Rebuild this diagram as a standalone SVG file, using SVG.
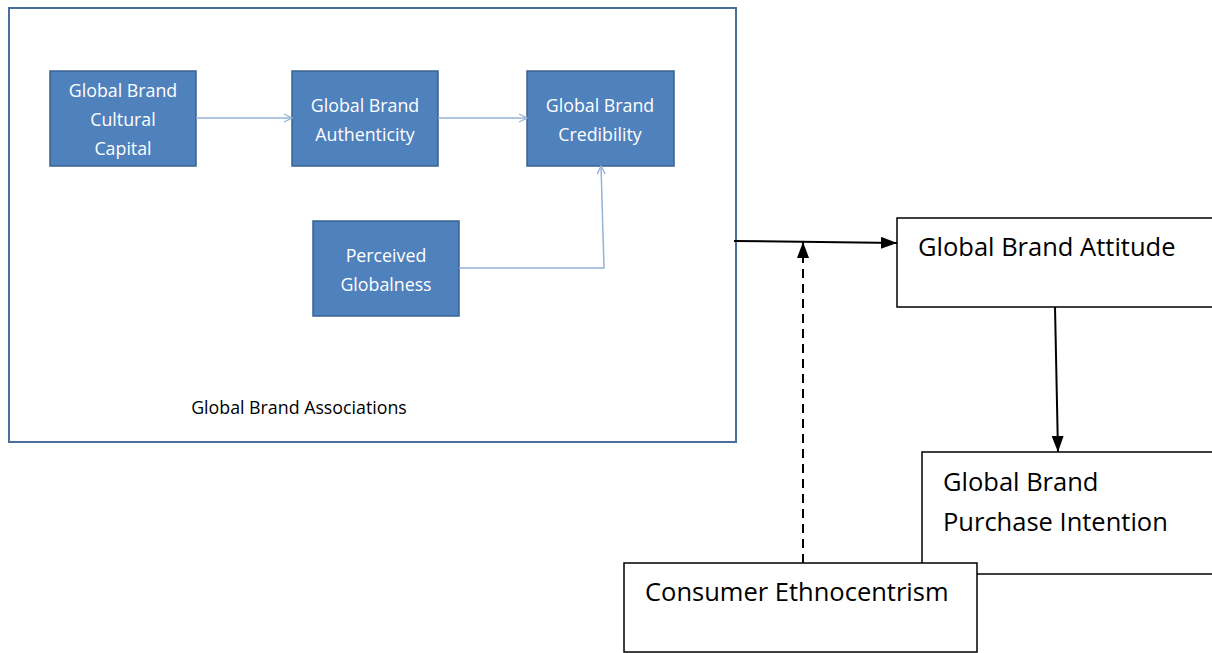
<svg xmlns="http://www.w3.org/2000/svg" width="1212" height="653" viewBox="0 0 1212 653">
<style>
.bb{fill:#4f81bd;stroke:#3a6290;stroke-width:1.5}
.bt{fill:#ffffff;font-family:"Open Sans","Liberation Sans",sans-serif;font-size:17.8px;text-anchor:middle}
.wb{fill:#ffffff;stroke:#000000;stroke-width:1.5}
.kt{fill:#000000;font-family:"Open Sans","Liberation Sans",sans-serif;font-size:25.5px}
.la{fill:none;stroke:#95b3d7;stroke-width:1.5}
.ka{fill:none;stroke:#000000;stroke-width:2}
</style>
<defs>
<marker id="lh" viewBox="0 0 10 10" refX="9" refY="5" markerWidth="10" markerHeight="10" markerUnits="userSpaceOnUse" orient="auto">
<path d="M1,1 L9,5 L1,9" fill="none" stroke="#95b3d7" stroke-width="1.3"/>
</marker>
<marker id="kh" viewBox="0 0 16 12" refX="16" refY="6" markerWidth="16" markerHeight="12" markerUnits="userSpaceOnUse" orient="auto">
<path d="M0,0 L16,6 L0,12 Z" fill="#000000"/>
</marker>
</defs>
<g id="associations">
<rect x="9" y="8" width="727" height="434" fill="#ffffff" stroke="#4a6f9e" stroke-width="2"/>
<text x="299" y="414" font-family="'Open Sans','Liberation Sans',sans-serif" font-size="17.8px" text-anchor="middle" fill="#000000">Global Brand Associations</text>
</g>
<g id="cultural-capital">
<rect class="bb" x="50" y="71" width="146" height="95"/>
<text class="bt" x="123" y="97">Global Brand</text>
<text class="bt" x="123" y="126">Cultural</text>
<text class="bt" x="123" y="155">Capital</text>
</g>
<g id="authenticity">
<rect class="bb" x="292" y="71" width="146" height="95"/>
<text class="bt" x="365" y="112">Global Brand</text>
<text class="bt" x="365" y="141">Authenticity</text>
</g>
<g id="credibility">
<rect class="bb" x="527" y="71" width="147" height="95"/>
<text class="bt" x="600" y="112">Global Brand</text>
<text class="bt" x="600" y="141">Credibility</text>
</g>
<g id="globalness">
<rect class="bb" x="313" y="221" width="146" height="95"/>
<text class="bt" x="386" y="262">Perceived</text>
<text class="bt" x="386" y="291">Globalness</text>
</g>
<g id="attitude">
<rect class="wb" x="897" y="218" width="320" height="89"/>
<text class="kt" x="918" y="256">Global Brand Attitude</text>
</g>
<g id="purchase">
<rect class="wb" x="922" y="452" width="295" height="122"/>
<text class="kt" x="943" y="491">Global Brand</text>
<text class="kt" x="943" y="531">Purchase Intention</text>
</g>
<g id="ethnocentrism">
<rect class="wb" x="624" y="563" width="353" height="89"/>
<text class="kt" x="645" y="601">Consumer Ethnocentrism</text>
</g>
<g id="connectors">
<line class="la" x1="196" y1="118" x2="292" y2="118" marker-end="url(#lh)"/>
<line class="la" x1="438" y1="118" x2="527" y2="118" marker-end="url(#lh)"/>
<polyline class="la" points="459,268 604,268 601,166" marker-end="url(#lh)"/>
<line class="ka" x1="734" y1="241" x2="897" y2="243" marker-end="url(#kh)"/>
<line class="ka" x1="803" y1="563" x2="803" y2="242" stroke-dasharray="9,6" marker-end="url(#kh)"/>
<line class="ka" x1="1055" y1="307" x2="1058" y2="452" marker-end="url(#kh)"/>
</g>
</svg>
